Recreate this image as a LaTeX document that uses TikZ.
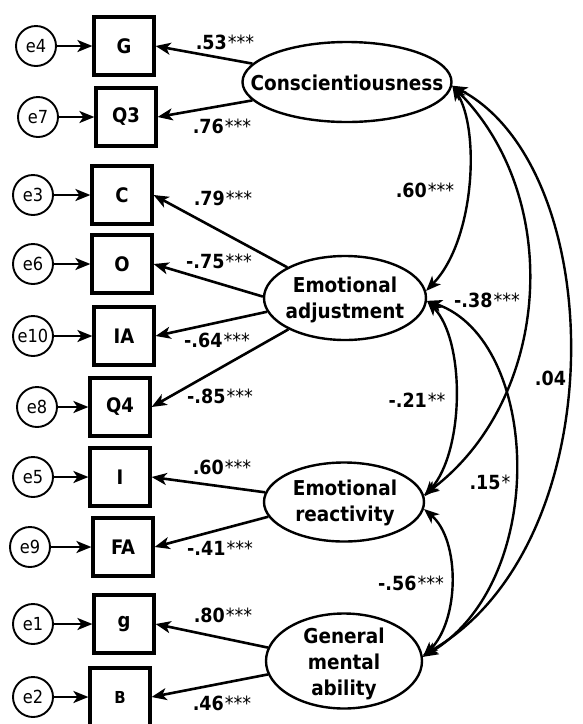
\documentclass[tikz,border=0pt]{standalone}
\usepackage{fontspec}
\setmainfont{DejaVu Sans Condensed}
\usetikzlibrary{arrows.meta,shapes.geometric}
\newcommand\cf[2]{{\bfseries #1}\kern1pt#2}
\begin{document}
\begin{tikzpicture}[x=1pt,y=-1pt,
  obs/.style={draw,line width=3.2pt,minimum width=60pt,minimum height=58pt,inner sep=0pt,font=\fontsize{20}{22}\selectfont\bfseries},
  err/.style={draw,circle,line width=1.9pt,minimum size=40pt,inner sep=0pt,font=\fontsize{18}{20}\selectfont},
  lat/.style={draw,ellipse,line width=2.4pt,inner sep=0pt},
  lattxt/.style={align=center,font=\fontsize{20.5}{26}\selectfont\bfseries,inner sep=0pt},
  coef/.style={inner sep=0pt,font=\fontsize{19.5}{22}\selectfont},
  arr/.style={line width=2.6pt,-{Stealth[length=15pt,width=12pt,inset=4pt]}},
  cor/.style={line width=2.4pt,{Stealth[length=15pt,width=12pt,inset=4pt]}-{Stealth[length=15pt,width=12pt,inset=4pt]}}]
\useasboundingbox (0,0) rectangle (582,724);

% observed variables
\node[obs] (G)  at (124,46)  {G};
\node[obs] (Q3) at (126,117) {Q3};
\node[obs] (C)  at (122,195) {C};
\node[obs] (O)  at (122,264) {O};
\node[obs] (IA) at (124,336) {IA};
\node[obs] (Q4) at (120,407) {Q4};
\node[obs] (I)  at (120,477) {I};
\node[obs] (FA) at (123,547) {FA};
\node[obs] (g)  at (124,624) {g};
\node[obs,font=\fontsize{16.5}{18}\selectfont\bfseries] (B) at (120,697) {B};

% errors
\node[err] (e4)  at (36,46)  {e4};
\node[err] (e7)  at (38,117) {e7};
\node[err] (e3)  at (33,195) {e3};
\node[err] (e6)  at (33,264) {e6};
\node[err] (e10) at (33,336) {e10};
\node[err] (e8)  at (37,407) {e8};
\node[err] (e5)  at (33,477) {e5};
\node[err] (e9)  at (30,547) {e9};
\node[err] (e1)  at (33,624) {e1};
\node[err] (e2)  at (33,697) {e2};

\foreach \a/\b in {e4/G,e7/Q3,e3/C,e6/O,e10/IA,e8/Q4,e5/I,e9/FA,e1/g,e2/B}
  \draw[arr] (\a) -- (\b);

% latent variables
\node[lat,minimum width=209pt,minimum height=80pt] (cons) at (347,82) {};
\node[lattxt] (consT) at (347,83) {Conscientiousness};
\node[lat,minimum width=162pt,minimum height=84pt] (ea) at (345,298) {};
\node[lattxt] (eaT) at (345,300) {Emotional\\adjustment};
\node[lat,minimum width=160pt,minimum height=79pt] (er) at (344,502) {};
\node[lattxt] (erT) at (345,503) {Emotional\\reactivity};
\node[lat,minimum width=156pt,minimum height=95pt] (gma) at (344,661) {};
\node[lattxt] (gmaT) at (344,664) {General\\mental\\ability};

% loadings
\draw[arr] (cons.169) -- (G.east);
\draw[arr] (cons.191) -- (Q3.east);
\draw[arr] (ea.152) -- (C.east);
\draw[arr] (ea.179) -- (O.east);
\draw[arr] (ea.190) -- (IA.east);
\draw[arr] (ea.209) -- (Q4.east);
\draw[arr] (er.173) -- (I.east);
\draw[arr] (er.191) -- (FA.east);
\draw[arr] (gma.170) -- (g.east);
\draw[arr] (gma.190) -- (B.east);

\node[coef] (l1)  at (225,42)  {\cf{.53}{***}};
\node[coef] (l2)  at (222,126) {\cf{.76}{***}};
\node[coef] (l3)  at (223,198) {\cf{.79}{***}};
\node[coef] (l4)  at (219,261) {\cf{-.75}{***}};
\node[coef] (l5)  at (217,340) {\cf{-.64}{***}};
\node[coef] (l6)  at (220,396) {\cf{-.85}{***}};
\node[coef] (l7)  at (222,467) {\cf{.60}{***}};
\node[coef] (l8)  at (220,548) {\cf{-.41}{***}};
\node[coef] (l9)  at (223,615) {\cf{.80}{***}};
\node[coef] (l10) at (222,703) {\cf{.46}{***}};

% correlations
\draw[cor] (cons.-2) .. controls (480,130) and (475,240) .. (ea.5);
\draw[cor] (cons.-2) .. controls (565,200) and (550,400) .. (er.5);
\draw[cor] (cons.-2) .. controls (610,170) and (615,545) .. (gma.4);
\draw[cor] (ea.-2) .. controls (465,340) and (465,450) .. (er.4);
\draw[cor] (ea.-2) .. controls (540,340) and (550,580) .. (gma.3);
\draw[cor] (er.-5) .. controls (460,540) and (460,620) .. (gma.3);

\node[coef] (c1) at (425,190) {\cf{.60}{***}};
\node[coef] (c2) at (487,300) {\cf{-.38}{***}};
\node[coef] (c3) at (551,378) {\cf{.04}{}};
\node[coef] (c4) at (417,400) {\cf{-.21}{**}};
\node[coef] (c5) at (490,482) {\cf{.15}{*}};
\node[coef] (c6) at (411,583) {\cf{-.56}{***}};
\end{tikzpicture}
\end{document}
